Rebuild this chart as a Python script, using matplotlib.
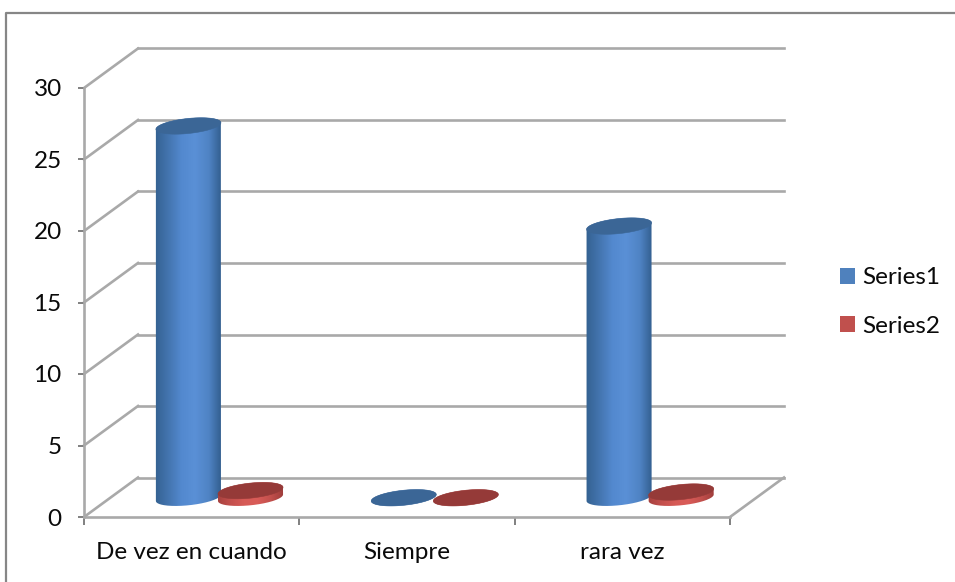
import numpy as np
import matplotlib
matplotlib.use("Agg")
import matplotlib.pyplot as plt
from matplotlib.colors import LinearSegmentedColormap
from matplotlib.lines import Line2D
from matplotlib.patches import PathPatch, Patch
from matplotlib.path import Path
from matplotlib.transforms import Affine2D, IdentityTransform

# Survey answers per category
categories = ["De vez en cuando", "Siempre", "rara vez"]
series_names = ["Series1", "Series2"]
series1 = [26, 0, 19]
series2 = [0.5, 0, 0.4]
y_ticks = [0, 5, 10, 15, 20, 25, 30]

plt.rcParams["font.family"] = ["Lato", "DejaVu Sans"]
W, H = 955, 582
GRID = "#a9a9a9"
FRAME = "#868686"
TEXT = "#0a0a0a"
FONT_SIZE = 17.5

fig = plt.figure(figsize=(W / 100, H / 100), dpi=100, facecolor="white")
ax = fig.add_axes([84 / W, (H - 517) / H, (730 - 84) / W, (517 - 88) / H])
ax.set_xlim(0, 3)
ax.set_ylim(0, 30)
ax.autoscale(False)
ax.patch.set_alpha(0)

# Outer chart frame: only the top and left edges fall inside the canvas
fig.add_artist(Line2D([5.5 / W, 5.5 / W, 1], [0, (H - 13) / H, (H - 13) / H],
                      color=FRAME, lw=1.6, transform=fig.transFigure))

# Depth of the pseudo-3D box, in pixels
DEPTH = np.array([54.0, 39.5])
wall = ax.transData + Affine2D().translate(*DEPTH)
middle = ax.transData + Affine2D().translate(DEPTH[0] / 2 + 0.8, DEPTH[1] / 2 - 0.5)

# Back wall gridlines and the diagonals on the side wall
for v in y_ticks:
    ax.plot([0, 3], [v, v], color=GRID, lw=1.9, transform=wall, clip_on=False,
            zorder=1, solid_capstyle="projecting")
    start = ax.transData.transform((0, v))
    end = start + DEPTH
    ax.plot([start[0], end[0]], [start[1], end[1]], color=GRID, lw=1.9,
            transform=IdentityTransform(), clip_on=False, zorder=1)

# Right edge of the floor
start = ax.transData.transform((3, 0))
end = start + DEPTH
ax.plot([start[0], end[0]], [start[1], end[1]], color=GRID, lw=1.9,
        transform=IdentityTransform(), clip_on=False, zorder=1)

for side in ("top", "right"):
    ax.spines[side].set_visible(False)
for side in ("left", "bottom"):
    ax.spines[side].set_color(GRID)
    ax.spines[side].set_linewidth(1.9)

ax.set_yticks(y_ticks)
ax.set_xticks([0, 1, 2, 3])
ax.set_xticklabels([])
ax.set_xticks([0.5, 1.5, 2.5], minor=True)
ax.set_xticklabels(categories, minor=True)
ax.tick_params(axis="y", length=4.5, width=1.4, color="#808080", pad=11.5,
               labelsize=FONT_SIZE, labelcolor=TEXT)
ax.tick_params(axis="x", which="major", length=5.5, width=1.4, color="#808080")
ax.tick_params(axis="x", which="minor", length=0, pad=18, labelsize=FONT_SIZE,
               labelcolor=TEXT)

# Cylinder cross-section: a tilted ellipse, sizes in pixels
A, B = 32.7, 7.5
TILT = np.deg2rad(6)
HALF_GAP = 31.0 / 215.0
T0 = np.arctan2(-B * np.sin(TILT), A * np.cos(TILT))


def ring(center, t):
    x = A * np.cos(t)
    y = B * np.sin(t)
    return np.column_stack([
        center[0] + x * np.cos(TILT) - y * np.sin(TILT),
        center[1] + x * np.sin(TILT) + y * np.cos(TILT),
    ])


def cylinder(xpos, value, side_colors, top_color, zorder):
    base = middle.transform((xpos, 0))
    top = middle.transform((xpos, value))
    # Lower arc of the base, then upper arc of the top
    lower = ring(base, np.linspace(T0 + np.pi, T0 + 2 * np.pi, 80))
    upper = ring(top, np.linspace(T0, T0 + np.pi, 80))
    outline = np.vstack([lower, upper, lower[:1]])
    clip = PathPatch(Path(outline), transform=IdentityTransform())

    half = 34.0 / 215.0
    cmap = LinearSegmentedColormap.from_list("shade", side_colors)
    margin = 12.0 / 14.3
    image = ax.imshow(np.linspace(0, 1, 128)[None, :], cmap=cmap, aspect="auto",
                      extent=(xpos - half, xpos + half, -margin, value + margin),
                      transform=middle, zorder=zorder, interpolation="bilinear")
    image.set_clip_path(clip)

    cap = ring(top, np.linspace(0, 2 * np.pi, 160))
    ax.add_patch(PathPatch(Path(np.vstack([cap, cap[:1]])), facecolor=top_color,
                           edgecolor=top_color, lw=0.4, zorder=zorder + 0.5,
                           transform=IdentityTransform(), clip_on=False))


blue_side = ["#33608f", "#4374ae", "#5389cf", "#5a90d6", "#4f83c4", "#2f5a88"]
red_side = ["#a33f3d", "#c24f4c", "#d65a56", "#d95c58", "#c24f4c", "#9a3b39"]

for i in range(len(categories)):
    centre = i + 0.5
    cylinder(centre - HALF_GAP, series1[i], blue_side, "#3b6696", 3 + i)
    cylinder(centre + HALF_GAP, series2[i], red_side, "#953a38", 3.7 + i)

ax.set_xlim(0, 3)
ax.set_ylim(0, 30)

handles = [Patch(facecolor="#4f81bd", edgecolor="none"),
           Patch(facecolor="#c0504d", edgecolor="none")]
fig.legend(handles, series_names, loc="center left",
           bbox_to_anchor=(818 / W, (H - 302) / H), frameon=False,
           fontsize=FONT_SIZE, labelcolor=TEXT, handlelength=0.62,
           handleheight=0.62, handletextpad=0.3, labelspacing=1.12)

fig.savefig("out.png", dpi=100, facecolor="white")
